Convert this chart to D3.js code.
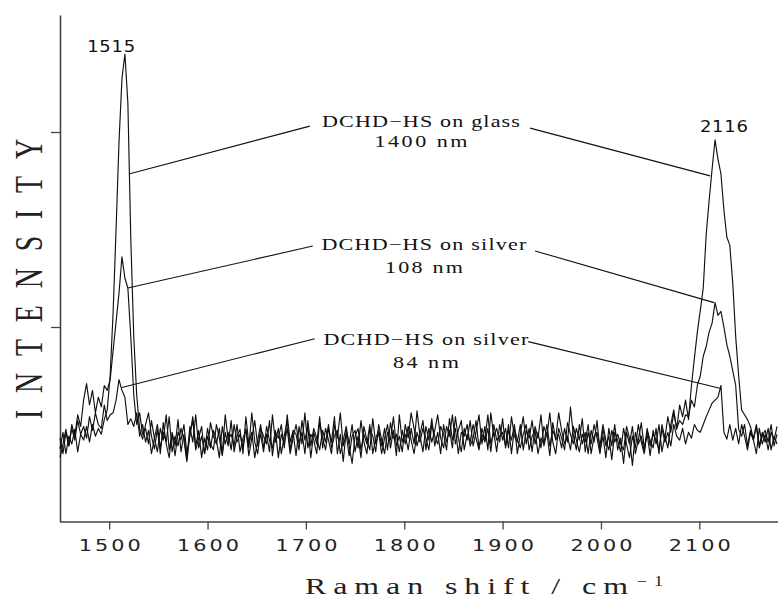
<!DOCTYPE html>
<html>
<head>
<meta charset="utf-8">
<script src="https://cdn.jsdelivr.net/npm/d3@7"></script>
<style>
  html, body { margin: 0; padding: 0; background: #fff; }
  svg { display: block; }
</style>
</head>
<body>
<svg id="chart" width="778" height="600"></svg>
<script>
// Sampling grid of the spectra (Raman shift, cm^-1)
const shiftStart = 1450;
const shiftStep = 3;

// Intensity (arbitrary units), one value per grid point
const glass = [
  75, 92, 70, 88, 80, 95, 72, 90, 84, 98,
  82, 100, 88, 96, 90, 105, 115, 150, 215, 300,
  390, 455, 480, 430, 290, 190, 130, 95, 85, 100,
  112, 88, 75, 95, 70, 102, 80, 66, 92, 78,
  105, 72, 90, 64, 98, 82, 110, 76, 88, 70,
  96, 80, 74, 100, 86, 68, 92, 78, 104, 72,
  88, 95, 70, 108, 80, 92, 66, 84, 100, 76,
  90, 72, 110, 82, 96, 70, 88, 104, 74, 92,
  68, 98, 80, 112, 76, 90, 84, 70, 102, 86,
  74, 96, 82, 108, 70, 90, 62, 94, 80, 100,
  72, 88, 66, 98, 84, 74, 106, 80, 92, 70,
  86, 100, 76, 94, 68, 110, 82, 90, 74, 96,
  80, 114, 88, 72, 98, 84, 106, 78, 92, 70,
  100, 82, 94, 76, 108, 86, 72, 96, 84, 104,
  78, 92, 110, 80, 98, 74, 112, 88, 96, 82,
  106, 76, 94, 84, 100, 70, 90, 108, 80, 96,
  72, 98, 86, 110, 78, 92, 68, 102, 84, 90,
  76, 96, 82, 118, 88, 74, 100, 80, 92, 70,
  94, 82, 104, 72, 88, 66, 96, 78, 100, 74,
  86, 60, 92, 80, 98, 70, 84, 102, 76, 90,
  68, 94, 80, 100, 72, 88, 76, 100, 115, 95,
  120, 108, 125, 105, 140, 168, 195, 217, 240, 295,
  330, 362, 392, 372, 357, 320, 292, 284, 245, 190,
  150, 115, 110, 105, 98, 85, 100, 78, 92, 82,
  96, 74, 88, 80
];

const silver108 = [
  66, 80, 95, 78, 100, 88, 110, 98, 125, 142,
  120, 135, 112, 128, 118, 140, 135, 146, 176, 205,
  235, 272, 250, 240, 190, 130, 100, 112, 90, 96,
  80, 104, 86, 72, 96, 84, 110, 74, 90, 68,
  92, 84, 100, 70, 88, 108, 78, 94, 66, 86,
  74, 102, 88, 80, 96, 70, 110, 84, 90, 78,
  100, 72, 86, 94, 76, 112, 82, 70, 96, 88,
  80, 104, 68, 92, 86, 100, 76, 110, 82, 94,
  90, 74, 104, 84, 98, 66, 92, 80, 108, 76,
  96, 84, 70, 100, 86, 112, 78, 90, 68, 88,
  94, 76, 104, 82, 70, 96, 88, 72, 100, 84,
  70, 92, 84, 108, 78, 88, 72, 100, 86, 112,
  96, 78, 90, 104, 74, 96, 82, 94, 110, 86,
  76, 98, 88, 110, 80, 94, 104, 74, 90, 82,
  100, 86, 74, 96, 84, 110, 80, 92, 72, 100,
  84, 96, 76, 108, 88, 82, 100, 74, 94, 86,
  104, 80, 92, 76, 98, 88, 112, 82, 70, 96,
  86, 74, 102, 90, 80, 96, 84, 106, 72, 92,
  80, 100, 86, 70, 96, 78, 88, 64, 92, 84,
  72, 96, 80, 66, 88, 76, 100, 82, 70, 94,
  84, 76, 96, 70, 100, 86, 108, 92, 112, 96,
  104, 100, 110, 108, 125, 118, 140, 150, 170, 180,
  195, 204, 225, 212, 216, 200, 182, 170, 155, 140,
  95, 88, 100, 78, 94, 84, 70, 96, 80, 90,
  74, 92, 84, 98
];

const silver84 = [
  86, 70, 92, 78, 96, 84, 104, 90, 98, 86,
  108, 94, 112, 100, 96, 120, 104, 110, 112, 125,
  146, 135, 128, 100, 106, 98, 112, 88, 100, 82,
  94, 70, 86, 100, 76, 92, 82, 108, 72, 88,
  78, 96, 84, 62, 90, 104, 74, 86, 98, 70,
  88, 76, 94, 84, 66, 98, 80, 92, 74, 100,
  82, 90, 76, 96, 68, 86, 104, 78, 90, 72,
  98, 84, 76, 94, 66, 90, 80, 96, 70, 86,
  100, 80, 92, 70, 104, 78, 96, 86, 74, 94,
  82, 100, 76, 88, 94, 70, 84, 98, 78, 60,
  88, 96, 74, 90, 80, 100, 70, 86, 94, 78,
  96, 74, 102, 86, 90, 72, 94, 80, 98, 84,
  70, 92, 82, 96, 86, 74, 100, 88, 80, 98,
  90, 74, 106, 84, 96, 70, 92, 88, 100, 78,
  86, 104, 76, 90, 82, 96, 72, 100, 84, 88,
  92, 78, 100, 70, 96, 84, 76, 90, 100, 74,
  88, 94, 70, 86, 80, 100, 78, 94, 86, 112,
  94, 80, 88, 74, 98, 84, 72, 90, 82, 100,
  70, 88, 92, 78, 100, 84, 74, 94, 82, 90,
  80, 74, 98, 86, 58, 92, 80, 88, 72, 96,
  78, 90, 84, 74, 96, 82, 92, 78, 100, 88,
  84, 96, 80, 92, 86, 100, 94, 92, 100, 108,
  115, 122, 125, 128, 140, 92, 85, 100, 84, 96,
  80, 100, 88, 74, 92, 84, 98, 76, 88, 94,
  82, 100, 78, 90
];

const xTickValues = [1500, 1600, 1700, 1800, 1900, 2000, 2100];
const yTickValues = [200, 400];

// Peak labels: text, position in data space
const peakLabels = [
  { text: "1515", shift: 1502, value: 482 },
  { text: "2116", shift: 2125, value: 400 }
];

// Annotations: label lines, label centre (data space), leader lines (data space)
const annotations = [
  { lines: ["DCHD\u2212HS on glass", "1400 nm"], shift: 1817, value: [405, 385],
    lens: [198, 93],
    left: [[1704, 406], [1520, 357]], right: [[1928, 404], [2111, 355]] },
  { lines: ["DCHD\u2212HS on silver", "108 nm"], shift: 1820, value: [279, 255],
    lens: [205, 78],
    left: [[1707, 283], [1519, 240]], right: [[1933, 278], [2115, 225]] },
  { lines: ["DCHD\u2212HS on silver", "84 nm"], shift: 1822, value: [182, 158],
    lens: [205, 66],
    left: [[1709, 188], [1513, 138]], right: [[1926, 185], [2122, 137]] }
];

const svg = d3.select("#chart");
const x = d3.scaleLinear().domain([1450, 2180]).range([60, 778]);
const y = d3.scaleLinear().domain([0, 520]).range([522, 15]);

// Axes
const tickStretch = 1.3;
const xAxis = svg.append("g")
  .attr("transform", `translate(0,${y(0) - 0.5})`)
  .call(d3.axisBottom(x).tickValues(xTickValues).tickSize(8).tickSizeOuter(0).tickPadding(8)
    .tickFormat(d3.format("d")));
xAxis.select(".domain").attr("stroke", "#444").attr("stroke-width", 1.6);
xAxis.selectAll(".tick line").attr("stroke", "#444").attr("stroke-width", 1.3);
xAxis.selectAll(".tick text")
  .attr("fill", "#222")
  .attr("font-family", "DejaVu Sans, sans-serif")
  .attr("font-size", 16)
  .attr("dy", "0.85em")
  .attr("transform", `scale(${tickStretch},1)`)
  .attr("textLength", 62 / tickStretch)
  .attr("lengthAdjust", "spacing");

const yAxis = svg.append("g")
  .attr("transform", `translate(${x(1450)},0)`)
  .call(d3.axisLeft(y).tickValues(yTickValues).tickSize(9).tickSizeOuter(0).tickFormat(""));
yAxis.select(".domain").attr("stroke", "#444").attr("stroke-width", 1.6);
yAxis.selectAll(".tick line").attr("stroke", "#444").attr("stroke-width", 1.3);

// Spectra
const line = d3.line()
  .x((d, i) => x(shiftStart + i * shiftStep))
  .y(d => y(d));

[glass, silver108, silver84].forEach(series => {
  svg.append("path")
    .datum(series)
    .attr("fill", "none")
    .attr("stroke", "#111")
    .attr("stroke-width", 1.15)
    .attr("stroke-linejoin", "round")
    .attr("d", line);
});

// Peak labels
const peakStretch = 1.2;
peakLabels.forEach(p => {
  svg.append("text")
    .attr("transform", `translate(${x(p.shift)},${y(p.value)}) scale(${peakStretch},1)`)
    .attr("text-anchor", "middle")
    .attr("font-family", "DejaVu Sans, sans-serif")
    .attr("font-size", 15)
    .attr("fill", "#111")
    .attr("textLength", 48 / peakStretch)
    .attr("lengthAdjust", "spacing")
    .text(p.text);
});

// Annotations
const noteStretch = 1.3;
annotations.forEach(a => {
  a.lines.forEach((t, k) => {
    svg.append("text")
      .attr("transform", `translate(${x(a.shift)},${y(a.value[k])}) scale(${noteStretch},1)`)
      .attr("text-anchor", "middle")
      .attr("font-family", "Liberation Serif, serif")
      .attr("font-size", 17)
      .attr("fill", "#111")
      .attr("textLength", a.lens[k] / noteStretch)
      .attr("lengthAdjust", "spacing")
      .text(t);
  });
  [a.left, a.right].forEach(seg => {
    svg.append("line")
      .attr("x1", x(seg[0][0])).attr("y1", y(seg[0][1]))
      .attr("x2", x(seg[1][0])).attr("y2", y(seg[1][1]))
      .attr("stroke", "#111")
      .attr("stroke-width", 1.1);
  });
});

// Y axis title
svg.append("text")
  .attr("transform", "translate(42,279) rotate(-90) scale(0.68,1)")
  .attr("text-anchor", "middle")
  .attr("font-family", "Liberation Serif, serif")
  .attr("font-size", 41)
  .attr("fill", "#222")
  .attr("textLength", 412)
  .attr("lengthAdjust", "spacing")
  .text("INTENSITY");

// X axis title
const titleStretch = 1.45;
svg.append("text")
  .attr("transform", `translate(305,594) scale(${titleStretch},1.08)`)
  .attr("font-family", "Liberation Serif, serif")
  .attr("font-size", 22)
  .attr("fill", "#222")
  .attr("textLength", 323 / titleStretch)
  .attr("lengthAdjust", "spacing")
  .text("Raman shift / cm");
svg.append("text")
  .attr("transform", `translate(637,586) scale(1.3,1)`)
  .attr("font-family", "Liberation Serif, serif")
  .attr("font-size", 14)
  .attr("fill", "#222")
  .attr("textLength", 26 / 1.3)
  .attr("lengthAdjust", "spacing")
  .text("\u22121");
</script>
</body>
</html>
